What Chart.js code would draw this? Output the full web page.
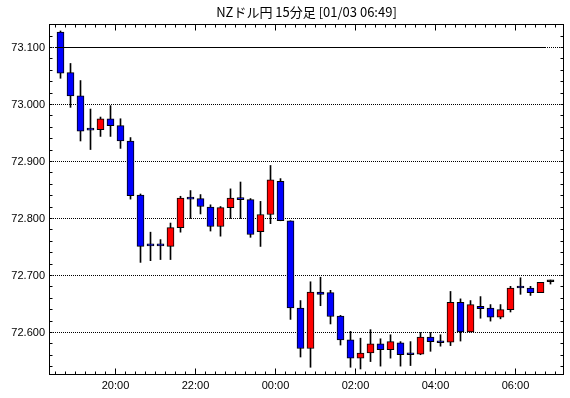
<!DOCTYPE html>
<html><head><meta charset="utf-8">
<script src="https://cdn.jsdelivr.net/npm/chart.js@4"></script>
<style>html,body{margin:0;padding:0;background:#fff}</style>
</head><body>
<canvas id="c" width="570" height="398" style="width:570px;height:398px;display:block"></canvas>
<script>
const times = ['18:30','18:45','19:00','19:15','19:30','19:45','20:00','20:15','20:30','20:45',
  '21:00','21:15','21:30','21:45','22:00','22:15','22:30','22:45','23:00','23:15',
  '23:30','23:45','00:00','00:15','00:30','00:45','01:00','01:15','01:30','01:45',
  '02:00','02:15','02:30','02:45','03:00','03:15','03:30','03:45','04:00','04:15',
  '04:30','04:45','05:00','05:15','05:30','05:45','06:00','06:15','06:30','06:45'];
const openV = [73.127,73.056,73.015,72.956,72.956,72.975,72.963,72.936,72.841,72.753,
  72.753,72.751,72.784,72.835,72.835,72.820,72.786,72.819,72.836,72.833,
  72.777,72.807,72.865,72.796,72.643,72.572,72.671,72.670,72.629,72.587,
  72.555,72.564,72.580,72.570,72.582,72.562,72.562,72.592,72.583,72.583,
  72.653,72.601,72.646,72.643,72.627,72.640,72.679,72.678,72.670,72.689];
const highV = [73.129,73.072,73.042,72.992,72.978,72.998,72.975,72.942,72.843,72.776,
  72.763,72.792,72.839,72.849,72.842,72.824,72.821,72.852,72.864,72.835,
  72.830,72.893,72.870,72.796,72.656,72.689,72.697,72.674,72.630,72.602,
  72.590,72.605,72.589,72.596,72.584,72.584,72.600,72.600,72.596,72.672,
  72.659,72.656,72.663,72.649,72.649,72.681,72.696,72.681,72.688,72.692];
const lowV = [73.046,72.995,72.936,72.921,72.944,72.944,72.923,72.834,72.723,72.726,
  72.728,72.728,72.776,72.800,72.808,72.778,72.769,72.800,72.800,72.767,
  72.751,72.791,72.796,72.623,72.557,72.539,72.647,72.615,72.578,72.539,
  72.536,72.549,72.541,72.555,72.541,72.542,72.561,72.567,72.576,72.577,
  72.585,72.601,72.625,72.620,72.624,72.636,72.667,72.665,72.670,72.685];
const closeV = [73.055,73.015,72.953,72.955,72.975,72.963,72.936,72.840,72.751,72.752,
  72.752,72.784,72.836,72.834,72.821,72.786,72.819,72.836,72.833,72.772,
  72.807,72.868,72.796,72.643,72.572,72.671,72.667,72.628,72.587,72.555,
  72.564,72.580,72.570,72.584,72.561,72.561,72.592,72.584,72.582,72.653,
  72.601,72.649,72.642,72.627,72.640,72.678,72.678,72.670,72.688,72.689];
const yTickValues = [72.6, 72.7, 72.8, 72.9, 73.0, 73.1];
const xTickLabels = ['20:00','22:00','00:00','02:00','04:00','06:00'];
const refLineX = [-0.5, 48.5];
const refLineY = [73.1, 73.1];
const titleText = 'NZドル円 15分足 [01/03 06:49]';

const xTickPos = xTickLabels.map(l => times.indexOf(l) - 0.5);

const bodyColors = openV.map((o, i) => closeV[i] > o ? '#ff0000' : (closeV[i] < o ? '#0000ff' : '#000000'));

const framePlugin = {
  id: 'frame',
  beforeDatasetsDraw(chart) {
    const {ctx, chartArea: a, scales: {y}} = chart;
    ctx.save();
    ctx.strokeStyle = '#000'; ctx.lineWidth = 1; ctx.setLineDash([1, 1]);
    yTickValues.forEach(v => {
      const py = Math.floor(y.getPixelForValue(v)) + 0.5;
      ctx.beginPath(); ctx.moveTo(a.left, py); ctx.lineTo(a.right, py); ctx.stroke();
    });
    ctx.restore();
  },
  afterDatasetsDraw(chart) {
    const {ctx, chartArea: a, scales: {x, y}} = chart;
    ctx.save();
    ctx.strokeStyle = '#000'; ctx.lineWidth = 1; ctx.setLineDash([]);
    const L = Math.round(a.left) + 0.5, R = Math.round(a.right) - 0.5;
    const T = Math.round(a.top) + 0.5, B = Math.round(a.bottom) - 0.5;
    ctx.strokeRect(L, T, R - L, B - T);
    ctx.beginPath();
    for (let k = 0; k < 40; k++) {
      const v = 72.52 + k * 0.02;
      const py = Math.floor(y.getPixelForValue(v)) + 0.5;
      if (py <= T + 1 || py >= B - 1) continue;
      ctx.moveTo(L, py); ctx.lineTo(L + 3, py);
      ctx.moveTo(R, py); ctx.lineTo(R - 3, py);
    }
    for (let i = 0; i <= times.length; i++) {
      const v = i - 0.5;
      const px = Math.floor(x.getPixelForValue(v)) + 0.5;
      if (px <= L + 1 || px >= R - 1) continue;
      const len = xTickPos.includes(v) ? 6 : 3;
      ctx.moveTo(px, T); ctx.lineTo(px, T + len);
      ctx.moveTo(px, B); ctx.lineTo(px, B - len);
    }
    ctx.stroke();
    ctx.restore();
  }
};

const tickFont = {family: '"Liberation Sans", Arial, sans-serif', size: 11};

new Chart(document.getElementById('c'), {
  data: {
    datasets: [
      {
        type: 'line',
        data: refLineX.map((xv, i) => ({x: xv, y: refLineY[i]})),
        borderColor: '#000', borderWidth: 1, pointRadius: 0, order: 0
      },
      {
        type: 'bar',
        data: times.map((t, i) => ({x: i, y: [openV[i], closeV[i]]})),
        backgroundColor: bodyColors, borderColor: '#000', borderWidth: 1,
        borderSkipped: false, barThickness: 7, minBarLength: 2, grouped: false, order: 1
      },
      {
        type: 'bar',
        data: times.map((t, i) => ({x: i, y: [lowV[i], highV[i]]})),
        backgroundColor: '#000', borderWidth: 0, barThickness: 1, grouped: false, order: 2
      }
    ]
  },
  options: {
    responsive: false, animation: false, devicePixelRatio: 1,
    layout: {padding: {left: 0, right: 6, top: 0, bottom: 0}},
    plugins: {
      legend: {display: false}, tooltip: {enabled: false},
      title: {
        display: true, text: titleText, color: '#000', fullSize: false,
        font: {family: '"Noto Sans CJK JP", sans-serif', size: 13, weight: 'normal', lineHeight: '14px'},
        padding: {top: 5, bottom: 5}
      }
    },
    scales: {
      x: {
        type: 'linear', min: -1.15, max: 50.35, offset: false,
        afterBuildTicks: s => { s.ticks = xTickPos.map(v => ({value: v})); },
        afterFit: s => { s.height = 23; },
        grid: {display: false, drawTicks: false, offset: false}, border: {display: false},
        ticks: {
          color: '#000', font: tickFont, padding: 4, maxRotation: 0, autoSkip: false,
          callback: (v) => xTickLabels[xTickPos.indexOf(v)] ?? ''
        }
      },
      y: {
        type: 'linear', min: 72.52544, max: 73.14123,
        afterBuildTicks: s => { s.ticks = yTickValues.map(v => ({value: v})); },
        afterFit: s => { s.width = 49; },
        grid: {display: false, drawTicks: false}, border: {display: false},
        ticks: {color: '#000', font: tickFont, padding: 4, callback: v => Number(v).toFixed(3)}
      }
    }
  },
  plugins: [framePlugin]
});
</script>
</body></html>
